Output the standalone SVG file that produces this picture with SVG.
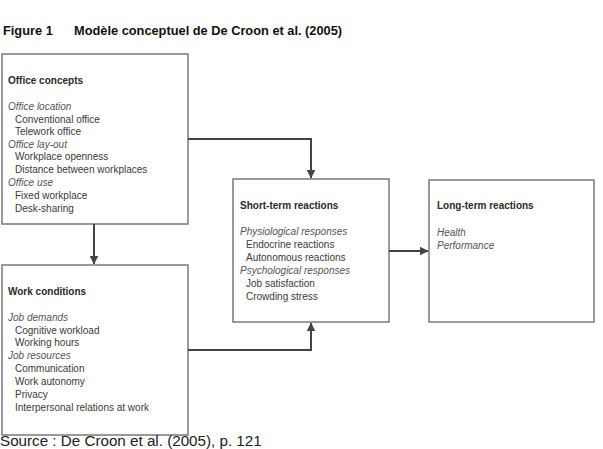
<svg xmlns="http://www.w3.org/2000/svg" width="603" height="449" viewBox="0 0 603 449">
<style>
.box{fill:#fff;stroke:#7a7a7a;stroke-width:1.5}
.t{font-family:"Liberation Sans",Arial,sans-serif;font-size:10px;fill:#3a3a3a}
.h{font-weight:bold;fill:#2a2a2a}
.i{font-style:italic;fill:#555}
.title{font-family:"Liberation Sans",Arial,sans-serif;font-size:12.8px;font-weight:bold;fill:#111}
.src{font-family:"Liberation Sans",Arial,sans-serif;font-size:15.2px;fill:#222}
.c{fill:none;stroke:#444;stroke-width:2}
</style>
<defs>
<marker id="arr" viewBox="0 0 8 8" refX="7.5" refY="4" markerWidth="4.5" markerHeight="4.5" orient="auto" markerUnits="strokeWidth">
<path d="M0,0 L8,4 L0,8 z" fill="#444"/>
</marker>
</defs>
<rect width="603" height="449" fill="#fff"/>
<text class="title" x="3" y="35">Figure 1</text>
<text class="title" x="74" y="35">Modèle conceptuel de De Croon et al. (2005)</text>

<g id="office-concepts">
<rect class="box" x="2" y="54" width="186" height="170"/>
<text class="t h" x="8" y="84">Office concepts</text>
<text class="t i" x="8" y="110">Office location</text>
<text class="t" x="15" y="123">Conventional office</text>
<text class="t" x="15" y="135">Telework office</text>
<text class="t i" x="8" y="148">Office lay-out</text>
<text class="t" x="15" y="160">Workplace openness</text>
<text class="t" x="15" y="173">Distance between workplaces</text>
<text class="t i" x="8" y="186">Office use</text>
<text class="t" x="15" y="199">Fixed workplace</text>
<text class="t" x="15" y="212">Desk-sharing</text>
</g>

<g id="work-conditions">
<rect class="box" x="2" y="265" width="186" height="170"/>
<text class="t h" x="8" y="295">Work conditions</text>
<text class="t i" x="8" y="321">Job demands</text>
<text class="t" x="15" y="334">Cognitive workload</text>
<text class="t" x="15" y="346">Working hours</text>
<text class="t i" x="8" y="359">Job resources</text>
<text class="t" x="15" y="372">Communication</text>
<text class="t" x="15" y="385">Work autonomy</text>
<text class="t" x="15" y="398">Privacy</text>
<text class="t" x="15" y="411">Interpersonal relations at work</text>
</g>

<g id="short-term">
<rect class="box" x="233" y="179" width="156" height="143"/>
<text class="t h" x="240" y="209">Short-term reactions</text>
<text class="t i" x="240" y="235">Physiological responses</text>
<text class="t" x="246" y="248">Endocrine reactions</text>
<text class="t" x="246" y="261">Autonomous reactions</text>
<text class="t i" x="240" y="274">Psychological responses</text>
<text class="t" x="246" y="287">Job satisfaction</text>
<text class="t" x="246" y="300">Crowding stress</text>
</g>

<g id="long-term">
<rect class="box" x="429" y="180" width="165" height="142"/>
<text class="t h" x="437" y="209">Long-term reactions</text>
<text class="t i" x="437" y="236">Health</text>
<text class="t i" x="437" y="249">Performance</text>
</g>

<g id="connectors">
<path class="c" d="M188,139 H311 V178" marker-end="url(#arr)"/>
<path class="c" d="M94,224 V264" marker-end="url(#arr)"/>
<path class="c" d="M188,350 H311 V323" marker-end="url(#arr)"/>
<path class="c" d="M389,251 H428" marker-end="url(#arr)"/>
</g>

<text class="src" x="0" y="446">Source : De Croon et al. (2005), p. 121</text>
</svg>
